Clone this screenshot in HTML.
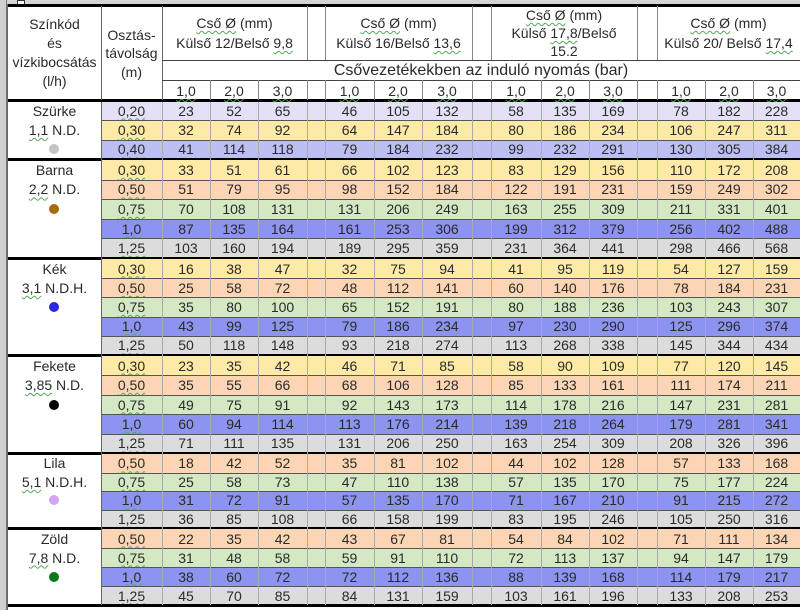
<!DOCTYPE html>
<html><head><meta charset="utf-8">
<style>
html,body{margin:0;padding:0;background:#fff;}
#c{position:relative;width:800px;height:610px;overflow:hidden;background:#fff;font-family:"Liberation Sans",Arial,sans-serif;color:#2a2a2a;}
.a{position:absolute;}
.t{position:absolute;text-align:center;font-size:14px;line-height:16px;white-space:nowrap;}
.u{text-decoration:underline wavy #5a5;text-decoration-thickness:1px;text-underline-offset:2px;}
</style></head><body>
<div id="c"></div>
<script>
var c=document.getElementById('c');
function box(x,y,w,h,bg){var d=document.createElement('div');d.className='a';d.style.cssText='left:'+x+'px;top:'+y+'px;width:'+w+'px;height:'+h+'px;background:'+bg;c.appendChild(d);return d;}
function txt(x,w,cy,s,cls,col){var d=document.createElement('div');d.className='t'+(cls?' '+cls:'');d.style.left=x+'px';d.style.width=w+'px';d.style.top=(cy-8)+'px';d.innerHTML=s;if(col)d.style.color=col;c.appendChild(d);return d;}
var X=[8,101,162,210,258,307,325,374,422,472,491,541,589,637,657,705,753,800];
box(0,0,800,4,'#d4d4d4');box(0,4,800,1,'#888');box(17,0,6,5,'#fff').style.border='1px solid #333';
box(0,0,7,610,'#d0d0d0');box(6,0,1,610,'#777');
var col={lav:'#e4e0f6',yel:'#fdeaa6',lb:'#bcbff2',pea:'#fcd6b4',grn:'#d4e8c4',blu:'#8c94f0',gry:'#dcdcdc'};
var groups=[
 {n:'Szürke',s:'<span class="u">1,1</span> N.D.',dot:'#c4c4c4',y0:101,y1:159,rows:[
  ['0,20','lav',[23,52,65,46,105,132,58,135,169,78,182,228]],
  ['0,30','yel',[32,74,92,64,147,184,80,186,234,106,247,311]],
  ['0,40','lb',[41,114,118,79,184,232,99,232,291,130,305,384]]]},
 {n:'Barna',s:'<span class="u">2,2</span> N.D.',dot:'#a86a10',y0:160,y1:258,rows:[
  ['0,30','yel',[33,51,61,66,102,123,83,129,156,110,172,208]],
  ['0,50','pea',[51,79,95,98,152,184,122,191,231,159,249,302]],
  ['0,75','grn',[70,108,131,131,206,249,163,255,309,211,331,401]],
  ['1,0','blu',[87,135,164,161,253,306,199,312,379,256,402,488]],
  ['1,25','gry',[103,160,194,189,295,359,231,364,441,298,466,568]]]},
 {n:'Kék',s:'<span class="u">3,1</span> N.D.H.',dot:'#2828e0',y0:259,y1:355,rows:[
  ['0,30','yel',[16,38,47,32,75,94,41,95,119,54,127,159]],
  ['0,50','pea',[25,58,72,48,112,141,60,140,176,78,184,231]],
  ['0,75','grn',[35,80,100,65,152,191,80,188,236,103,243,307]],
  ['1,0','blu',[43,99,125,79,186,234,97,230,290,125,296,374]],
  ['1,25','gry',[50,118,148,93,218,274,113,268,338,145,344,434]]]},
 {n:'Fekete',s:'<span class="u">3,85</span> N.D.',dot:'#000',y0:356,y1:453,rows:[
  ['0,30','yel',[23,35,42,46,71,85,58,90,109,77,120,145]],
  ['0,50','pea',[35,55,66,68,106,128,85,133,161,111,174,211]],
  ['0,75','grn',[49,75,91,92,143,173,114,178,216,147,231,281]],
  ['1,0','blu',[60,94,114,113,176,214,139,218,264,179,281,341]],
  ['1,25','gry',[71,111,135,131,206,250,163,254,309,208,326,396]]]},
 {n:'Lila',s:'<span class="u">5,1</span> N.D.H.',dot:'#d4a4f4',y0:454,y1:528,rows:[
  ['0,50','pea',[18,42,52,35,81,102,44,102,128,57,133,168]],
  ['0,75','grn',[25,58,73,47,110,138,57,135,170,75,177,224]],
  ['1,0','blu',[31,72,91,57,135,170,71,167,210,91,215,272]],
  ['1,25','gry',[36,85,108,66,158,199,83,195,246,105,250,316]]]},
 {n:'Zöld',s:'<span class="u">7,8</span> N.D.',dot:'#087a18',y0:529,y1:605,rows:[
  ['0,50','pea',[22,35,42,43,67,81,54,84,102,71,111,134]],
  ['0,75','grn',[31,48,58,59,91,110,72,113,137,94,147,179]],
  ['1,0','blu',[38,60,72,72,112,136,88,139,168,114,179,217]],
  ['1,25','gry',[45,70,85,84,131,159,103,161,196,133,208,253]]]}
];
var dataCols=[2,3,4,6,7,8,10,11,12,14,15,16];
groups.forEach(function(g){
 var n=g.rows.length,h=(g.y1-g.y0)/n;
 g.rows.forEach(function(r,i){
  var y=g.y0+i*h;
  box(101,Math.round(y),699,Math.round(y+h)-Math.round(y),col[r[1]]);
  if(i>0)box(101,Math.round(y),699,1,'#555');
  var cy=y+h/2;
  txt(101,61,cy,r[0],'u');
  r[2].forEach(function(v,k){var ci=dataCols[k];txt(X[ci],X[ci+1]-X[ci],cy,v);});
 });
 txt(8,93,g.y0+h/2,g.n);
 txt(8,93,g.y0+h*1.5,g.s);
 var d=box(49,Math.round(g.y0+h*2.5-5),10,10,g.dot);d.style.borderRadius='50%';
 box(8,g.y1-1,792,3,'#000');
});
for(var i=1;i<X.length-1;i++){box(X[i],101,1,504,i==1?'#666':'#aaa');}
box(8,4,792,3,'#000');
box(8,99,792,3,'#000');
box(7,4,1,606,'#666');
[101,162].forEach(function(x){box(x,6,1,94,'#666');});
[307,325,472,491,637,657].forEach(function(x){box(x,6,1,54,'#888');});
box(162,60,638,1,'#444');box(162,80,638,1,'#444');
[210,258,307,325,374,422,472,491,541,589,637,657,705,753].forEach(function(x){box(x,80,1,20,'#888');});
txt(8,93,24,'Színkód');txt(8,93,43,'és');txt(8,93,62,'vízkibocsátás');txt(8,93,81,'(l/h)');
txt(101,61,35,'Osztás-');txt(101,61,53,'távolság');txt(101,61,72,'(m)');
function hdr(x0,x1,lines,ys){lines.forEach(function(l,i){txt(x0,x1-x0,ys[i],l);});}
hdr(162,307,['<span class="u">Cső Ø</span> (mm)','Külső 12/Belső <span class="u">9,8</span>'],[23,43]);
hdr(325,472,['<span class="u">Cső Ø</span> (mm)','Külső 16/Belső <span class="u">13,6</span>'],[23,43]);
hdr(491,637,['<span class="u">Cső Ø</span> (mm)','Külső <span class="u">17,8</span>/Belső','15.2'],[15,33,51]);
hdr(657,800,['<span class="u">Cső Ø</span> (mm)','Külső 20/ Belső <span class="u">17,4</span>'],[23,43]);
txt(162,638,71,'Csővezetékekben az induló nyomás (bar)').style.fontSize='16px';
dataCols.forEach(function(ci,k){txt(X[ci],X[ci+1]-X[ci],91,['1,0','2,0','3,0'][k%3],'u');});
</script>
</body></html>
